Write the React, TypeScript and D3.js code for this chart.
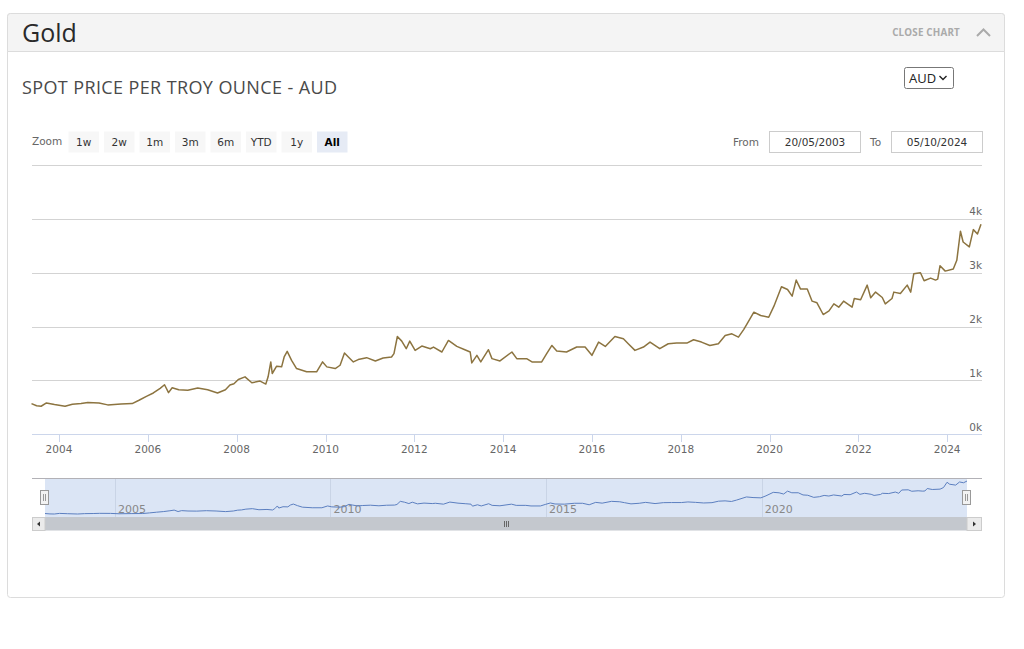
// React
import { useMemo } from 'react';

// Installed Packages
import * as d3 from 'd3';

// Spot price readings (AUD per troy ounce)
const dates = [
    '2003-05-20', '2003-07-01', '2003-08-07', '2003-09-20', '2003-11-25',
    '2004-02-20', '2004-04-20', '2004-07-01', '2004-08-25', '2004-11-25',
    '2005-02-05', '2005-05-25', '2005-08-25', '2005-10-20', '2005-12-20',
    '2006-02-15', '2006-04-12', '2006-05-18', '2006-06-20', '2006-07-20',
    '2006-09-12', '2006-11-25', '2007-02-15', '2007-05-08', '2007-07-28',
    '2007-10-01', '2007-11-07', '2007-12-10', '2008-01-15', '2008-03-10',
    '2008-05-05', '2008-07-12', '2008-08-28', '2008-09-16', '2008-10-08',
    '2008-10-20', '2008-11-25', '2009-01-05', '2009-01-26', '2009-02-20',
    '2009-03-28', '2009-05-08', '2009-07-30', '2009-10-20', '2009-12-08',
    '2010-01-12', '2010-03-22', '2010-05-01', '2010-06-06', '2010-07-08',
    '2010-08-18', '2010-09-27', '2010-12-05', '2011-02-15', '2011-04-20',
    '2011-06-28', '2011-07-18', '2011-08-15', '2011-09-20', '2011-10-27',
    '2011-11-25', '2012-01-08', '2012-03-03', '2012-05-12', '2012-06-07',
    '2012-08-15', '2012-10-08', '2012-12-16', '2013-02-20', '2013-04-05',
    '2013-04-18', '2013-05-30', '2013-07-01', '2013-09-02', '2013-10-01',
    '2013-12-06', '2014-03-14', '2014-04-23', '2014-07-13', '2014-08-26',
    '2014-11-14', '2014-12-25', '2015-02-06', '2015-03-18', '2015-06-06',
    '2015-08-29', '2015-11-06', '2016-01-01', '2016-02-25', '2016-04-20',
    '2016-07-08', '2016-09-16', '2016-10-26', '2016-12-20', '2017-02-28',
    '2017-04-23', '2017-07-12', '2017-09-20', '2017-11-28', '2018-02-20',
    '2018-04-16', '2018-06-20', '2018-08-28', '2018-11-06', '2019-01-01',
    '2019-02-25', '2019-04-20', '2019-06-02', '2019-07-01', '2019-08-25',
    '2019-10-20', '2019-12-25', '2020-02-06', '2020-04-08', '2020-05-28',
    '2020-07-05', '2020-08-07', '2020-09-12', '2020-11-06', '2020-12-16',
    '2021-01-25', '2021-03-17', '2021-05-04', '2021-06-13', '2021-07-23',
    '2021-09-01', '2021-11-10', '2021-11-28', '2022-01-19', '2022-03-14',
    '2022-04-12', '2022-05-22', '2022-07-16', '2022-08-10', '2022-10-04',
    '2022-10-19', '2022-12-12', '2023-02-06', '2023-03-07', '2023-04-01',
    '2023-05-26', '2023-06-25', '2023-08-18', '2023-09-27', '2023-10-15',
    '2023-11-03', '2023-12-16', '2024-02-20', '2024-03-20', '2024-04-19',
    '2024-05-11', '2024-07-01', '2024-08-03', '2024-09-06', '2024-10-05'
];

const prices = [
    570, 530, 521, 583, 552,
    521, 558, 570, 589, 583,
    546, 564, 570, 632, 705,
    767, 853, 920, 773, 865,
    828, 816, 859, 828, 767,
    828, 914, 939, 1018, 1067,
    957, 988, 933, 1067, 1344,
    1129, 1264, 1252, 1436, 1540,
    1374, 1221, 1160, 1160, 1344,
    1252, 1221, 1282, 1509, 1436,
    1344, 1387, 1423, 1362, 1417,
    1436, 1497, 1816, 1730, 1589,
    1730, 1558, 1638, 1589, 1620,
    1528, 1742, 1632, 1571, 1528,
    1325, 1466, 1344, 1571, 1405,
    1362, 1528, 1405, 1405, 1344,
    1344, 1497, 1650, 1546, 1528,
    1620, 1620, 1466, 1712, 1632,
    1816, 1773, 1681, 1558, 1620,
    1712, 1589, 1681, 1693, 1693,
    1755, 1712, 1650, 1681, 1834,
    1865, 1804, 1944, 2056, 2267,
    2205, 2174, 2379, 2739, 2689,
    2565, 2863, 2696, 2696, 2472,
    2441, 2224, 2292, 2422, 2360,
    2472, 2360, 2522, 2497, 2770,
    2534, 2640, 2540, 2422, 2522,
    2640, 2615, 2770, 2640, 2980,
    2999, 2850, 2900, 2863, 2880,
    3130, 3030, 3068, 3230, 3770,
    3570, 3480, 3800, 3720, 3900
];

const yTicks = [0, 1000, 2000, 3000, 4000, 5000];
const zoomButtons = ['1w', '2w', '1m', '3m', '6m', 'YTD', '1y', 'All'];
const fromLabel = '20/05/2003';
const toLabel = '05/10/2024';

const chartFont = '"DejaVu Sans", Verdana, sans-serif';
const titleFont = '"Open Sans", sans-serif';

export default function App() {
    const parse = d3.timeParse('%Y-%m-%d');
    const data = useMemo(() => dates.map((d, i) => ({ date: parse(d)!, value: prices[i] })), []);

    const domain = d3.extent(data, d => d.date) as [Date, Date];

    // Main plot
    const x = d3.scaleTime().domain(domain).range([31.5, 981]);
    const y = d3.scaleLinear().domain([0, 5000]).range([434.3, 165]);
    const line = d3.line<{ date: Date, value: number }>()
        .x(d => x(d.date))
        .y(d => y(d.value));

    // Navigator
    const nx = d3.scaleTime().domain(domain).range([45, 967]);
    const ny = d3.scaleLinear().domain(d3.extent(data, d => d.value) as [number, number]).range([514, 481]);
    const navLine = d3.line<{ date: Date, value: number }>()
        .x(d => nx(d.date))
        .y(d => ny(d.value));

    const xTicks = x.ticks(d3.timeYear.every(2)!);
    const navTicks = nx.ticks(d3.timeYear.every(5)!);
    const fmtYear = d3.timeFormat('%Y');

    return (
        <svg width={1024} height={649} style={{ position: 'absolute', left: 0, top: 0 }}>
            {/* panel */}
            <rect x={7.5} y={13.5} width={997} height={584} rx={3} fill="#fff" stroke="#dcdcdc" />
            <path d="M7.5,51.5 V16.5 a3,3 0 0 1 3,-3 H1001.5 a3,3 0 0 1 3,3 V51.5 Z" fill="#f4f4f4" stroke="#dcdcdc" />
            <text x={22} y={42} fontFamily={titleFont} fontSize={25} fill="#2a2a2a">Gold</text>
            <text x={960} y={36} textAnchor="end" fontFamily={titleFont} fontSize={9.8} fontWeight="bold" fill="#aaa" letterSpacing={0.2}>CLOSE CHART</text>
            <polyline points="977,36 983.5,29.5 990,36" fill="none" stroke="#aaa" strokeWidth={2} />

            <text x={22} y={94} fontFamily={titleFont} fontSize={18} fill="#4a4a4a" textLength={315}>SPOT PRICE PER TROY OUNCE - AUD</text>

            {/* currency select */}
            <rect x={904.5} y={67.5} width={49} height={21} rx={2} fill="#fff" stroke="#777" />
            <text x={909} y={83} fontFamily={titleFont} fontSize={13} fill="#222">AUD</text>
            <polyline points="939.5,76 943,79.5 946.5,76" fill="none" stroke="#222" strokeWidth={1.4} />

            {/* range selector */}
            <text x={32} y={145} fontFamily={chartFont} fontSize={10.5} fill="#666">Zoom</text>
            {zoomButtons.map((b, i) => {
                const bx = 68.5 + i * 35.5;
                const selected = b === 'All';
                return (
                    <g key={b}>
                        <rect x={bx} y={131.5} width={30.5} height={21} fill={selected ? '#e6ebf5' : '#f7f7f7'} />
                        <text x={bx + 15.25} y={145.5} textAnchor="middle" fontFamily={chartFont} fontSize={10.5}
                            fontWeight={selected ? 'bold' : 'normal'} fill={selected ? '#000' : '#333'}>{b}</text>
                    </g>
                );
            })}
            <text x={733} y={145.5} fontFamily={chartFont} fontSize={10.5} fill="#666">From</text>
            <rect x={769.5} y={131.5} width={91} height={21} fill="#fff" stroke="#ccc" />
            <text x={815} y={145.5} textAnchor="middle" fontFamily={chartFont} fontSize={10.5} fill="#333">{fromLabel}</text>
            <text x={870} y={145.5} fontFamily={chartFont} fontSize={10.5} fill="#666">To</text>
            <rect x={891.5} y={131.5} width={91} height={21} fill="#fff" stroke="#ccc" />
            <text x={937} y={145.5} textAnchor="middle" fontFamily={chartFont} fontSize={10.5} fill="#333">{toLabel}</text>

            {/* grid */}
            {yTicks.map(t => (
                <g key={t}>
                    <line x1={32} x2={982} y1={Math.round(y(t)) + 0.5} y2={Math.round(y(t)) + 0.5} stroke="#d3d3d3" />
                    {t < 5000 && (
                        <text x={982} y={y(t) - 3.5} textAnchor="end" fontFamily={chartFont} fontSize={10.5} fill="#666">{`${t / 1000}k`}</text>
                    )}
                </g>
            ))}

            {/* x axis */}
            <line x1={32} x2={982} y1={434.5} y2={434.5} stroke="#ccd6eb" />
            {xTicks.map(t => (
                <g key={t.getTime()}>
                    <line x1={Math.round(x(t)) + 0.5} x2={Math.round(x(t)) + 0.5} y1={434.5} y2={442} stroke="#ccd6eb" />
                    <text x={x(t)} y={453} textAnchor="middle" fontFamily={chartFont} fontSize={10.5} fill="#666">{fmtYear(t)}</text>
                </g>
            ))}

            {/* series */}
            <path d={line(data)!} fill="none" stroke="#8c7440" strokeWidth={1.5} strokeLinejoin="round" />

            {/* navigator */}
            <rect x={45} y={478} width={922} height={39} fill="#dbe5f5" />
            {navTicks.map(t => (
                <g key={t.getTime()}>
                    <line x1={Math.round(nx(t)) + 0.5} x2={Math.round(nx(t)) + 0.5} y1={478} y2={517} stroke="#c9d4e6" />
                    <text x={nx(t) + 3} y={513} fontFamily={chartFont} fontSize={11} fill="#888">{fmtYear(t)}</text>
                </g>
            ))}
            <path d={navLine(data)!} fill="none" stroke="#5b7fc0" strokeWidth={1} />
            <line x1={32} x2={982} y1={478.5} y2={478.5} stroke="#b2b1b6" />
            {[45, 967].map(hx => (
                <g key={hx}>
                    <rect x={hx - 4.5} y={490.5} width={8} height={14} fill="#f2f2f2" stroke="#999" />
                    <line x1={hx - 1.5} x2={hx - 1.5} y1={494} y2={501} stroke="#999" />
                    <line x1={hx + 0.5} x2={hx + 0.5} y1={494} y2={501} stroke="#999" />
                </g>
            ))}

            {/* scrollbar */}
            <rect x={45} y={517} width={922} height={13.5} fill="#c4c8ce" />
            <rect x={32.5} y={517.5} width={12.5} height={13} fill="#ebebeb" stroke="#ccc" />
            <rect x={967} y={517.5} width={14.5} height={13} fill="#ebebeb" stroke="#ccc" />
            <path d="M40,521.5 L37,524 L40,526.5 Z" fill="#333" />
            <path d="M973,521.5 L976,524 L973,526.5 Z" fill="#333" />
            {[-2, 0, 2].map(o => (
                <line key={o} x1={506.5 + o} x2={506.5 + o} y1={521} y2={527} stroke="#666" />
            ))}
        </svg>
    );
}
